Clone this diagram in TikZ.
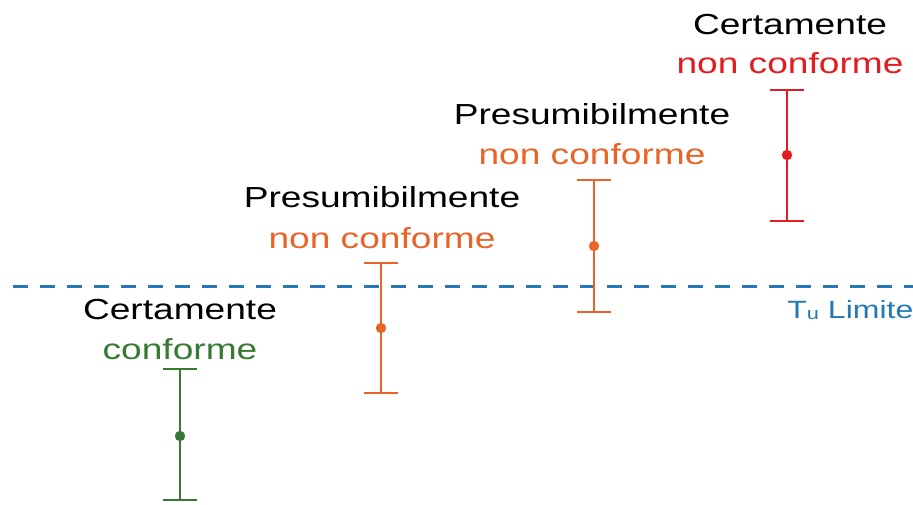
\documentclass[tikz,border=0pt]{standalone}
\usepackage{xcolor}
\usepackage{fontspec}
\setmainfont[FakeStretch=1.28]{Liberation Sans}
\usepackage{tikz}
\definecolor{okgreen}{RGB}{56,122,52}
\definecolor{warnorange}{RGB}{232,100,40}
\definecolor{badred}{RGB}{226,28,32}
\definecolor{limblue}{RGB}{36,120,180}
\tikzstyle{every label node}=[inner sep=0pt,anchor=base,font=\fontsize{14.5}{17}\selectfont]
\tikzstyle{limit line}=[limblue,line width=1.5pt,dash pattern=on 7.5pt off 6pt]
\newcommand{\errbar}[6]{
  \coordinate (#1top) at (#2,#3);
  \coordinate (#1mid) at (#2,#4);
  \coordinate (#1bot) at (#2,#5);
  \draw[#6, line width=1pt] (#1top) -- (#1bot);
  \draw[#6, line width=1pt] ([xshift=-8.5pt]#1top) -- ([xshift=8.5pt]#1top);
  \draw[#6, line width=1pt] ([xshift=-8.5pt]#1bot) -- ([xshift=8.5pt]#1bot);
  \fill[#6] (#1mid) circle (2.6pt);
}

\begin{document}
\begin{tikzpicture}[x=0.5pt,y=-0.5pt]
\useasboundingbox (0,0) rectangle (913,504);

  % limit
  \coordinate (limA) at (13,286);
  \coordinate (limB) at (913,286);
  \draw[limit line] (limA) -- (limB);
  \node[limblue, inner sep=0pt, anchor=base west, font=\fontsize{12.5}{15}\selectfont]
    (lim) at (787,318) {T\raisebox{-0.5pt}{\fontsize{8.5}{10}\selectfont u} Limite};

  % bars
  \errbar{g}{180}{369}{436}{500}{okgreen}
  \errbar{oa}{381}{263}{328}{393}{warnorange}
  \errbar{ob}{594}{180}{246}{312}{warnorange}
  \errbar{r}{787}{90}{155}{221}{badred}

  % labels
  \node[every label node] (gA) at (180,319) {Certamente};
  \node[every label node, okgreen] (gB) at (180,359) {conforme};

  \node[every label node] (oaA) at (382,207) {Presumibilmente};
  \node[every label node, warnorange] (oaB) at (382,248) {non conforme};

  \node[every label node] (obA) at (592,124) {Presumibilmente};
  \node[every label node, warnorange] (obB) at (592,164) {non conforme};

  \node[every label node] (rA) at (790,34) {Certamente};
  \node[every label node, badred] (rB) at (790,73) {non conforme};

\end{tikzpicture}
\end{document}
